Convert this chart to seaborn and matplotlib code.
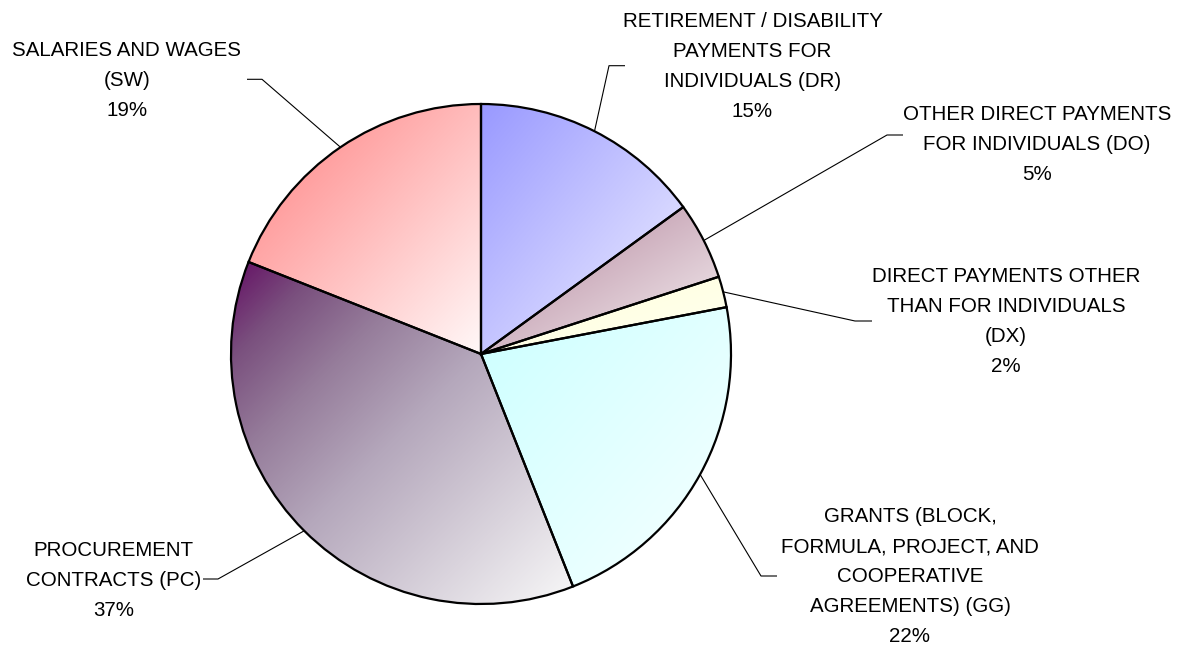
import numpy as np
import matplotlib
matplotlib.use("Agg")
import matplotlib.pyplot as plt
import seaborn as sns
from matplotlib.colors import LinearSegmentedColormap

# ---- data -------------------------------------------------------------
categories = ["DR", "DO", "DX", "GG", "PC", "SW"]
shares = [15, 5, 2, 22, 37, 19]
label_lines = [
    ["RETIREMENT / DISABILITY", "PAYMENTS FOR", "INDIVIDUALS (DR)"],
    ["OTHER DIRECT PAYMENTS", "FOR INDIVIDUALS (DO)"],
    ["DIRECT PAYMENTS OTHER", "THAN FOR INDIVIDUALS", "(DX)"],
    ["GRANTS (BLOCK,", "FORMULA, PROJECT, AND", "COOPERATIVE", "AGREEMENTS) (GG)"],
    ["PROCUREMENT", "CONTRACTS (PC)"],
    ["SALARIES AND WAGES", "(SW)"],
]

# ---- styling ----------------------------------------------------------
def rgb(r, g, b):
    return (r / 255, g / 255, b / 255)

gradient_stops = {
    "DR": [(0.0, rgb(153, 153, 255)), (1.0, rgb(242, 242, 255))],
    "DO": [(0.0, rgb(175, 125, 150)), (1.0, rgb(247, 243, 244))],
    "DX": [(0.0, rgb(255, 255, 216)), (1.0, rgb(255, 255, 242))],
    "GG": [(0.0, rgb(204, 255, 255)), (1.0, rgb(247, 255, 255))],
    "PC": [(0.0, rgb(100, 15, 100)), (0.14, rgb(122, 80, 126)),
           (0.3, rgb(150, 125, 155)), (0.5, rgb(181, 168, 188)),
           (1.0, rgb(248, 248, 248))],
    "SW": [(0.0, rgb(255, 128, 128)), (1.0, rgb(255, 248, 248))],
}

# layout in pixel units (y measured downward from the top edge)
W, H = 1183, 647
CENTER_PX = (481, 354)
RADIUS = 250
LINE_PITCH = 30
FONT_PT = 14.8
label_anchor = {  # (centre x, centre y of first line)
    "DR": (752.5, 19.2),
    "DO": (1037, 112.5),
    "DX": (1006, 274.7),
    "GG": (910, 514.7),
    "PC": (113.3, 548.8),
    "SW": (127, 48.5),
}
leader_elbow = {  # (elbow point, end point next to the text)
    "DR": [(609, 65.7), (625, 65.7)],
    "DO": [(887, 135), (903, 135)],
    "DX": [(855, 321), (872, 321)],
    "GG": [(761, 576), (777, 576)],
    "PC": [(218, 579), (203, 579)],
    "SW": [(262, 79.3), (247, 79.3)],
}

sns.set_theme(style="white")
plt.rcParams["font.family"] = ["Liberation Sans", "DejaVu Sans"]

fig = plt.figure(figsize=(W / 100, H / 100), dpi=100)
fig.patch.set_facecolor("white")
ax = fig.add_axes([0, 0, 1, 1])

center = (CENTER_PX[0], H - CENTER_PX[1])
wedges, _ = ax.pie(
    shares,
    startangle=90,
    counterclock=False,
    center=center,
    radius=RADIUS,
    frame=False,
    wedgeprops=dict(facecolor="none", edgecolor="black", linewidth=1.6, zorder=3),
)

# diagonal gradient fill inside every wedge (top-left colour -> bottom-right pale)
n = 300
u = np.linspace(0, 1, n)
uu, vv = np.meshgrid(u, u)  # vv = 0 at bottom row (origin='lower')
tgrid = (uu + (1 - vv)) / 2

for cat, w in zip(categories, wedges):
    ext = w.get_path().get_extents()
    cmap = LinearSegmentedColormap.from_list(cat, gradient_stops[cat])
    im = ax.imshow(
        tgrid,
        cmap=cmap,
        vmin=0,
        vmax=1,
        origin="lower",
        extent=[ext.x0, ext.x1, ext.y0, ext.y1],
        interpolation="bilinear",
        zorder=1,
    )
    im.set_clip_path(w)

# leader lines and labels
cap_half = 0.716 * FONT_PT * 100 / 72 / 2
for cat, w, lines, val in zip(categories, wedges, label_lines, shares):
    mid = np.deg2rad((w.theta1 + w.theta2) / 2)
    start = (center[0] + RADIUS * np.cos(mid), center[1] + RADIUS * np.sin(mid))
    pts = [start] + [(x, H - y) for x, y in leader_elbow[cat]]
    xs, ys = zip(*pts)
    ax.plot(xs, ys, color="black", linewidth=0.8, zorder=4, solid_capstyle="butt")

    cx, cy = label_anchor[cat]
    for i, line in enumerate(lines + [f"{val}%"]):
        ax.text(
            cx,
            H - (cy + i * LINE_PITCH + cap_half),
            line,
            ha="center",
            va="baseline",
            fontsize=FONT_PT,
            color="black",
            zorder=5,
        )

ax.set_xlim(0, W)
ax.set_ylim(0, H)
ax.set_aspect("equal")
ax.axis("off")

fig.savefig("out.png", dpi=100, facecolor="white")
